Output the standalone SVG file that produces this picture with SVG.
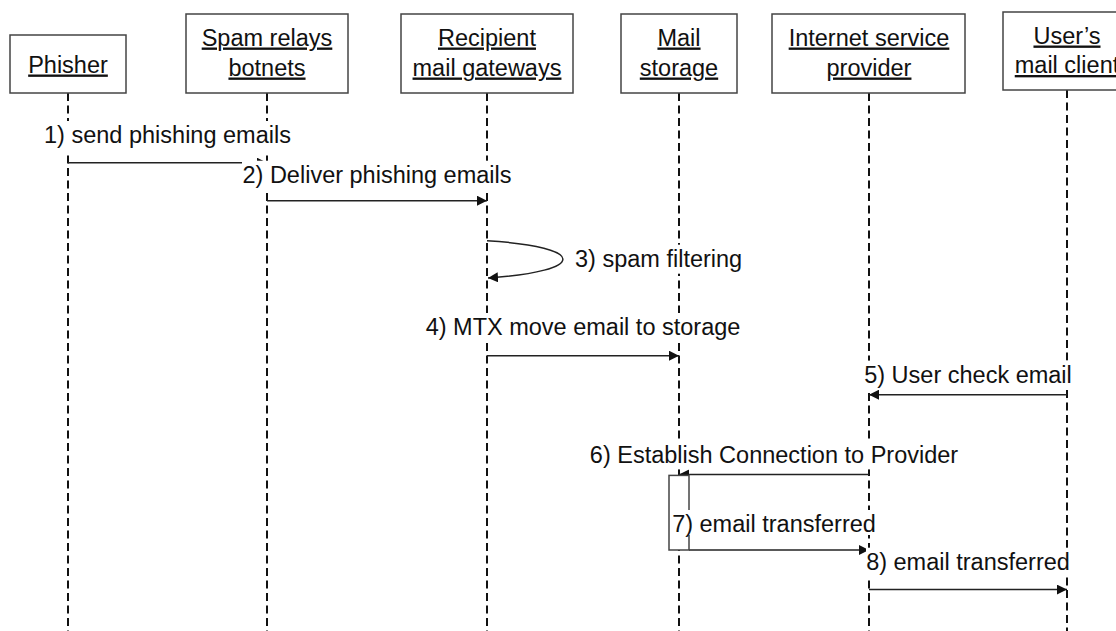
<svg xmlns="http://www.w3.org/2000/svg" width="1116" height="631" viewBox="0 0 1116 631">
  <defs>
    <marker id="arrow" viewBox="0 0 10 10" refX="10" refY="5" markerWidth="10" markerHeight="10" markerUnits="userSpaceOnUse" orient="auto">
      <path d="M0,0 L10,5 L0,10 Z" fill="#111"/>
    </marker>
    <style>
      .box { fill: #fff; stroke: #444; stroke-width: 1.5; }
      .life { stroke: #111; stroke-width: 2; stroke-dasharray: 8 4.5; fill: none; }
      .head { font-family: "Liberation Sans", Arial, sans-serif; font-size: 23.5px; fill: #111; text-anchor: middle; text-decoration: underline; }
      .msg { stroke: #222; stroke-width: 1.5; fill: none; marker-end: url(#arrow); }
      .lbl { font-family: "Liberation Sans", Arial, sans-serif; font-size: 23.5px; fill: #111; }
      .bg { fill: #fff; }
    </style>
  </defs>
  <rect width="1116" height="631" fill="#fff"/>

  <!-- lifelines -->
  <g id="lifelines">
    <line class="life" x1="68" y1="93" x2="68" y2="631"/>
    <line class="life" x1="267" y1="93" x2="267" y2="631"/>
    <line class="life" x1="487" y1="93" x2="487" y2="631"/>
    <line class="life" x1="679" y1="93" x2="679" y2="631"/>
    <line class="life" x1="869" y1="93" x2="869" y2="631"/>
    <line class="life" x1="1067" y1="90" x2="1067" y2="631"/>
  </g>

  <!-- participants -->
  <g id="phisher">
    <rect class="box" x="10" y="35" width="116" height="58"/>
    <text class="head" x="68" y="72.5">Phisher</text>
  </g>
  <g id="spam-relays">
    <rect class="box" x="186" y="14" width="162" height="79"/>
    <text class="head" x="267" y="45.5">Spam relays</text>
    <text class="head" x="267" y="75.5">botnets</text>
  </g>
  <g id="recipient-gateways">
    <rect class="box" x="401" y="14" width="172" height="79"/>
    <text class="head" x="487" y="45.5">Recipient</text>
    <text class="head" x="487" y="75.5">mail gateways</text>
  </g>
  <g id="mail-storage">
    <rect class="box" x="621" y="14" width="116" height="79"/>
    <text class="head" x="679" y="45.5">Mail</text>
    <text class="head" x="679" y="75.5">storage</text>
  </g>
  <g id="isp">
    <rect class="box" x="772" y="14" width="193" height="79"/>
    <text class="head" x="869" y="45.5">Internet service</text>
    <text class="head" x="869" y="75.5">provider</text>
  </g>
  <g id="mail-client">
    <rect class="box" x="1003" y="12" width="128" height="78"/>
    <text class="head" x="1067" y="43.5">User’s</text>
    <text class="head" x="1067" y="73">mail client</text>
  </g>

  <!-- messages -->
  <g id="connectors">
    <line class="msg" x1="68" y1="162.7" x2="267" y2="162.7"/>
    <line class="msg" x1="267" y1="200.7" x2="487" y2="200.7"/>
    <path class="msg" d="M487,240.7 C588,247 588,271 488,278"/>
    <line class="msg" x1="487" y1="355.7" x2="679" y2="355.7"/>
    <line class="msg" x1="1067" y1="394.7" x2="869" y2="394.7"/>
    <line class="msg" x1="869" y1="474.4" x2="679" y2="474.4"/>
    <line class="msg" x1="689" y1="550" x2="869" y2="550"/>
    <line class="msg" x1="869" y1="589.6" x2="1067" y2="589.6"/>
  </g>

  <!-- activation on mail storage -->
  <g id="activation">
    <rect class="box" x="669" y="475.4" width="20" height="74.6"/>
  </g>

  <!-- message labels -->
  <g id="labels">
    <rect class="bg" x="44" y="121" width="247" height="31"/>
    <text class="lbl" x="167.5" y="143" text-anchor="middle">1) send phishing emails</text>
    <rect class="bg" x="242" y="160.7" width="269" height="29"/>
    <text class="lbl" x="377" y="182.7" text-anchor="middle">2) Deliver phishing emails</text>
    <rect class="bg" x="575" y="244.7" width="167" height="29"/>
    <text class="lbl" x="575" y="266.7">3) spam filtering</text>
    <rect class="bg" x="425" y="313" width="315" height="29"/>
    <text class="lbl" x="583" y="335" text-anchor="middle">4) MTX move email to storage</text>
    <rect class="bg" x="863" y="360.6" width="210" height="29"/>
    <text class="lbl" x="968" y="382.6" text-anchor="middle">5) User check email</text>
    <rect class="bg" x="587" y="441.4" width="373" height="28"/>
    <text class="lbl" x="774" y="463.4" text-anchor="middle">6) Establish Connection to Provider</text>
    <rect class="bg" x="672" y="510" width="204" height="25"/>
    <text class="lbl" x="774" y="531.8" text-anchor="middle">7) email transferred</text>
    <rect class="bg" x="866" y="547.7" width="204" height="29"/>
    <text class="lbl" x="968" y="569.7" text-anchor="middle">8) email transferred</text>
  </g>
</svg>
